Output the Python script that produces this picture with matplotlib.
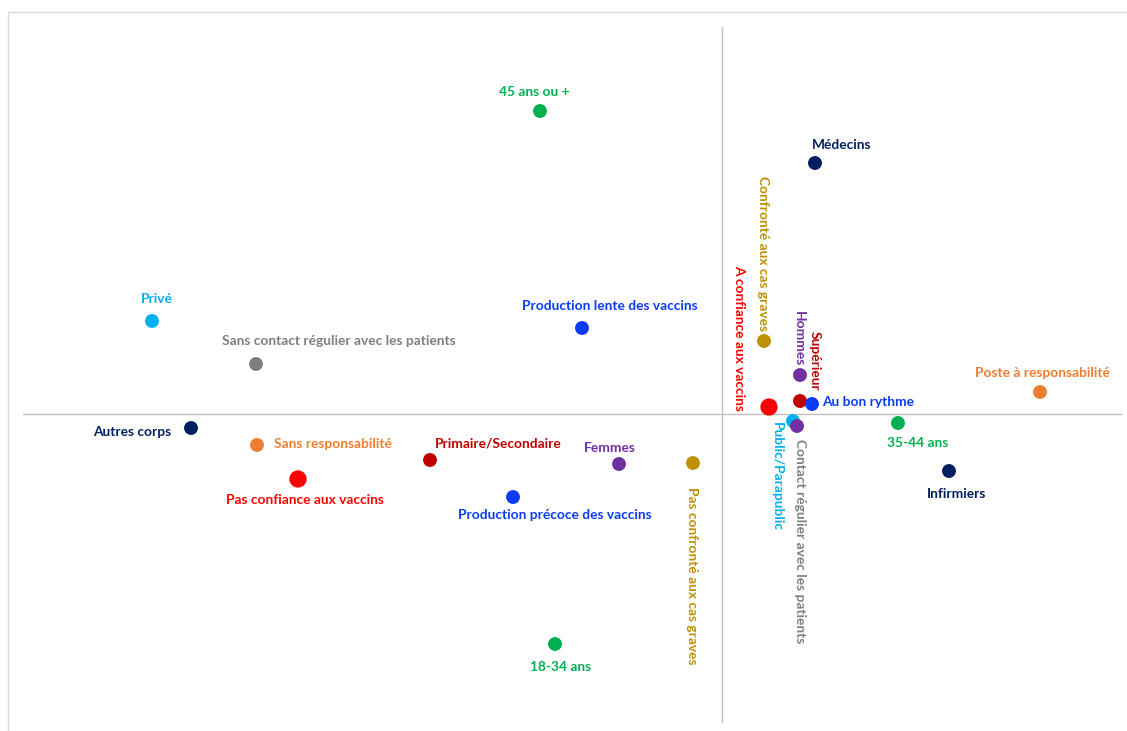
import matplotlib
matplotlib.use("Agg")
import matplotlib.pyplot as plt
from matplotlib.patches import Rectangle

# Modalities and their coordinates on the first two factorial axes
labels = [
    "45 ans ou +", "Médecins", "Confronté aux cas graves", "Privé",
    "Production lente des vaccins", "Sans contact régulier avec les patients",
    "Hommes", "Supérieur", "Au bon rythme", "A confiance aux vaccins",
    "Poste à responsabilité", "35-44 ans", "Public/Parapublic",
    "Contact régulier avec les patients", "Infirmiers", "Autres corps",
    "Sans responsabilité", "Pas confiance aux vaccins", "Primaire/Secondaire",
    "Femmes", "Pas confronté aux cas graves", "Production précoce des vaccins",
    "18-34 ans",
]
axis1 = [
    -0.364, 0.186, 0.084, -1.140,
    -0.280, -0.932,
    0.156, 0.156, 0.180, 0.094,
    0.636, 0.352, 0.142,
    0.150, 0.454, -1.062,
    -0.930, -0.848, -0.584,
    -0.206, -0.058, -0.418,
    -0.334,
]
axis2 = [
    0.606, 0.502, 0.146, 0.186,
    0.172, 0.100,
    0.078, 0.026, 0.020, 0.014,
    0.044, -0.018, -0.014,
    -0.024, -0.114, -0.028,
    -0.062, -0.130, -0.092,
    -0.100, -0.098, -0.166,
    -0.460,
]

# Styling per modality
GREEN, NAVY, GOLD, CYAN = "#00B050", "#002060", "#BF9000", "#00B0F0"
BLUE, GREY, PURPLE, DRED = "#0A3CF5", "#7F7F7F", "#7030A0", "#C00000"
RED, ORANGE = "#FF0000", "#ED7D31"
dot_colors = [GREEN, NAVY, GOLD, CYAN, BLUE, GREY, PURPLE, DRED, BLUE, RED,
              ORANGE, GREEN, CYAN, PURPLE, NAVY, NAVY, ORANGE, RED, DRED,
              PURPLE, GOLD, BLUE, GREEN]
text_colors = [GREEN, NAVY, GOLD, CYAN, BLUE, GREY, PURPLE, DRED, BLUE, RED,
               ORANGE, GREEN, CYAN, GREY, NAVY, NAVY, ORANGE, RED, DRED,
               PURPLE, GOLD, BLUE, GREEN]
big = {"A confiance aux vaccins", "Pas confiance aux vaccins"}
vertical = {"Confronté aux cas graves", "Hommes", "Supérieur",
            "A confiance aux vaccins", "Public/Parapublic",
            "Contact régulier avec les patients",
            "Pas confronté aux cas graves"}
# label offsets from the marker, in pixels
offsets = {
    "45 ans ou +": (-6, 19), "Médecins": (27, 18),
    "Confronté aux cas graves": (-1, 87), "Privé": (5, 22),
    "Production lente des vaccins": (28, 22),
    "Sans contact régulier avec les patients": (83, 23),
    "Hommes": (-1, 36), "Supérieur": (15, 40), "Au bon rythme": (56, 2),
    "A confiance aux vaccins": (-30, 69), "Poste à responsabilité": (2, 19),
    "35-44 ans": (20, -20), "Public/Parapublic": (-16, -56),
    "Contact régulier avec les patients": (3, -115),
    "Infirmiers": (8, -23), "Autres corps": (-59, -4),
    "Sans responsabilité": (76, 1), "Pas confiance aux vaccins": (7, -21),
    "Primaire/Secondaire": (68, 17), "Femmes": (-9, 16),
    "Pas confronté aux cas graves": (-1, -113),
    "Production précoce des vaccins": (42, -18), "18-34 ans": (6, -23),
}

W, H = 1127, 731
fig = plt.figure(figsize=(W / 100, H / 100), dpi=100)
fig.patch.set_facecolor("white")

# outer light frame
fig.patches.append(Rectangle((8 / W, -0.05), 1.2, 1 - 12 / H + 0.05,
                             transform=fig.transFigure, fill=False,
                             edgecolor="#D9D9D9", linewidth=1.0))

ax = fig.add_axes([23 / W, (731 - 723) / H, (1122 - 23) / W, (723 - 27) / H])
ax.set_xlim((23 - 722) / 500, (1122 - 722) / 500)
ax.set_ylim((414 - 723) / 500, (414 - 27) / 500)
ax.axis("off")
ax.axhline(0, color="#BFBFBF", linewidth=1.0, zorder=1)
ax.axvline(0, color="#BFBFBF", linewidth=1.0, zorder=1)

for name, x, y, dc, tc in zip(labels, axis1, axis2, dot_colors, text_colors):
    size = 155 if name in big else 100
    ax.scatter([x], [y], s=size, color=dc, edgecolors="none", zorder=3)
    dx, dy = offsets[name]
    ax.annotate(name, (x, y), xytext=(dx, dy), textcoords="offset pixels",
                ha="center", va="center", color=tc, fontsize=9.9,
                fontweight="bold", family=["Lato", "DejaVu Sans"],
                rotation=270 if name in vertical else 0, zorder=4)

fig.savefig("out.png", dpi=100)
